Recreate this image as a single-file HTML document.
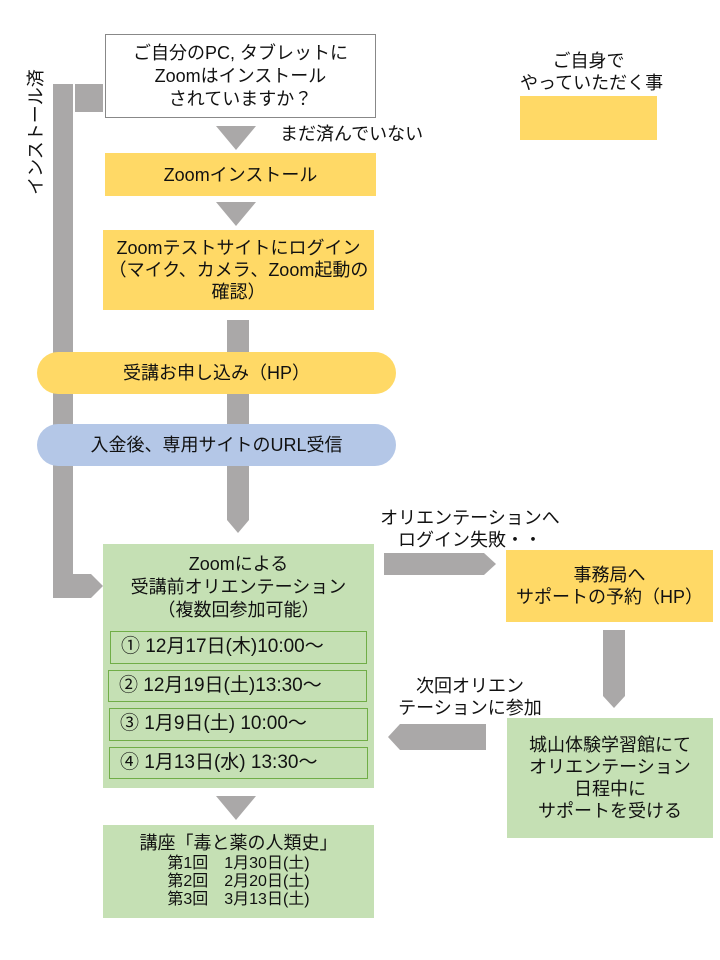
<!DOCTYPE html>
<html><head><meta charset="utf-8"><style>
body{margin:0;width:720px;height:960px;background:#fff;position:relative;overflow:hidden;font-family:"Liberation Sans","Noto Sans CJK JP",sans-serif;color:#111}
.a{position:absolute;box-sizing:border-box}
.c{display:flex;flex-direction:column;align-items:center;justify-content:center;text-align:center;font-size:18px;line-height:22px}
.y{background:#FFD966}.g{background:#C5E0B4}.b{background:#B4C7E7}.gr{background:#AAA8A8}
.t{position:absolute;font-size:18px;line-height:22px;text-align:center;white-space:nowrap}
.row{border:1px solid #70AD47;font-size:19px;line-height:30px;padding-left:10px;white-space:nowrap}
</style></head><body>
<div class="a c" style="left:105px;top:34px;width:271px;height:84px;border:1px solid #888;background:#fff;line-height:23px">ご自分のPC, タブレットに<br>Zoomはインストール<br>されていますか？</div>
<div class="a gr" style="left:75px;top:84px;width:28px;height:28px"></div>
<div class="a gr" style="left:53px;top:84px;width:20px;height:500px"></div>
<svg class="a" style="left:53px;top:574px" width="52" height="25"><polygon points="0,0 38,0 50,12 38,24 0,24" fill="#AAA8A8"/></svg>
<div class="t" style="left:-29px;top:121px;width:130px;transform:rotate(-90deg)">インストール済</div>
<svg class="a" style="left:216px;top:126px" width="41" height="25"><polygon points="0,0 40,0 20,24" fill="#AAA8A8"/></svg>
<div class="t" style="left:280px;top:123px">まだ済んでいない</div>
<div class="a c y" style="left:105px;top:153px;width:271px;height:43px">Zoomインストール</div>
<svg class="a" style="left:216px;top:202px" width="41" height="25"><polygon points="0,0 40,0 20,24" fill="#AAA8A8"/></svg>
<div class="a c y" style="left:103px;top:230px;width:271px;height:80px;white-space:nowrap">Zoomテストサイトにログイン<br>（マイク、カメラ、Zoom起動の<br>確認）</div>
<svg class="a" style="left:227px;top:320px" width="23" height="214"><polygon points="0,0 22,0 22,200 11,213 0,200" fill="#AAA8A8"/></svg>
<div class="a c y" style="left:37px;top:352px;width:359px;height:42px;border-radius:21px">受講お申し込み（HP）</div>
<div class="a c b" style="left:37px;top:424px;width:359px;height:42px;border-radius:21px">入金後、専用サイトのURL受信</div>
<div class="a g" style="left:103px;top:544px;width:271px;height:244px"></div>
<div class="t" style="left:103px;top:553px;width:271px;line-height:23px">Zoomによる<br>受講前オリエンテーション<br>（複数回参加可能）</div>
<div class="a row" style="left:110px;top:631px;width:257px;height:33px">① 12月17日(木)10:00～</div>
<div class="a row" style="left:108px;top:670px;width:259px;height:32px">② 12月19日(土)13:30～</div>
<div class="a row" style="left:109px;top:708px;width:259px;height:33px">③ 1月9日(土) 10:00～</div>
<div class="a row" style="left:109px;top:747px;width:259px;height:32px">④ 1月13日(水) 13:30～</div>
<svg class="a" style="left:216px;top:796px" width="41" height="25"><polygon points="0,0 40,0 20,24" fill="#AAA8A8"/></svg>
<div class="a g" style="left:103px;top:825px;width:271px;height:93px"></div>
<div class="t" style="left:103px;top:832px;width:271px">講座「毒と薬の人類史」</div>
<div class="t" style="left:103px;top:855px;width:271px;font-size:16px;line-height:18px">第1回　1月30日(土)<br>第2回　2月20日(土)<br>第3回　3月13日(土)</div>
<div class="t" style="left:380px;top:507px;width:180px">オリエンテーションへ<br>ログイン失敗・・</div>
<svg class="a" style="left:384px;top:553px" width="114" height="23"><polygon points="0,0 100,0 112,11 100,22 0,22" fill="#AAA8A8"/></svg>
<div class="a c y" style="left:506px;top:550px;width:207px;height:72px">事務局へ<br>サポートの予約（HP）</div>
<svg class="a" style="left:603px;top:630px" width="23" height="79"><polygon points="0,0 22,0 22,66 11,78 0,66" fill="#AAA8A8"/></svg>
<div class="t" style="left:385px;top:675px;width:170px">次回オリエン<br>テーションに参加</div>
<svg class="a" style="left:388px;top:724px" width="99" height="27"><polygon points="12,0 98,0 98,26 12,26 0,13" fill="#AAA8A8"/></svg>
<div class="a c g" style="left:507px;top:718px;width:206px;height:120px">城山体験学習館にて<br>オリエンテーション<br>日程中に<br>サポートを受ける</div>
<div class="t" style="left:520px;top:50px;width:137px">ご自身で<br>やっていただく事</div>
<div class="a y" style="left:520px;top:96px;width:137px;height:44px"></div>
</body></html>
